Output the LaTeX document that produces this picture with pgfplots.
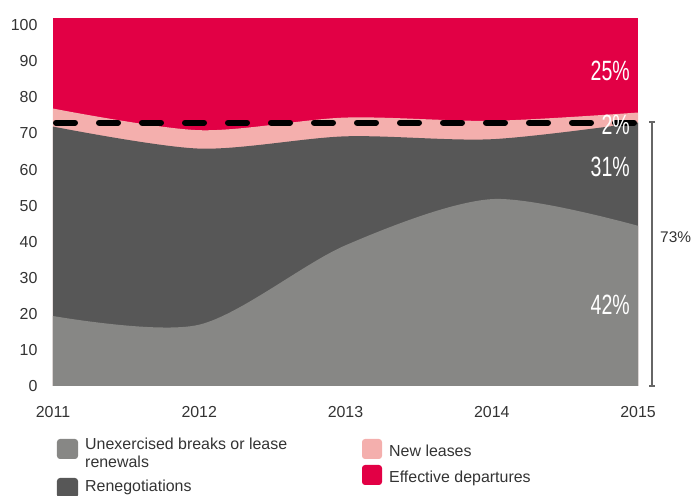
\documentclass[border=0pt]{standalone}
\usepackage{fontspec}
\setmainfont{Liberation Sans}
\usepackage{graphicx}
\usepackage{pgfplots}
\pgfplotsset{compat=1.18}
\definecolor{cRed}{HTML}{E20045}
\definecolor{cPink}{HTML}{F4AFAD}
\definecolor{cDark}{HTML}{575757}
\definecolor{cLight}{HTML}{878785}
\definecolor{cText}{HTML}{333333}
\definecolor{cBracket}{HTML}{666666}
\begin{document}
\begin{tikzpicture}[x=1bp,y=1bp]
\path[use as bounding box] (-53,-110) rectangle (638,386);
\begin{axis}[
  at={(0,0)}, anchor=south west,
  scale only axis, width=585bp, height=368bp,
  xmin=2011, xmax=2015, ymin=0, ymax=102,
  xtick={2011,2012,2013,2014,2015},
  ytick={0,10,...,100},
  axis line style={draw=none},
  major tick length=0pt, tick style={draw=none},
  /pgf/number format/1000 sep={},
  /pgf/number format/assume math mode=true,
  ticklabel style={font=\fontsize{16}{19}\selectfont, text=cText},
  xticklabel style={anchor=base, yshift=-32bp},
  yticklabel style={anchor=east, xshift=-12bp},
]
% Effective departures (top of stack)
\addplot[fill=cRed, draw=none] coordinates {(2011,102) (2015,102)} \closedcycle;
% New leases (cumulative top)
\addplot[fill=cPink, draw=none, smooth] coordinates {(2011,76.9) (2012,70.9) (2013,74.4) (2014,73.5) (2015,75.8)} \closedcycle;
% Renegotiations (cumulative top)
\addplot[fill=cDark, draw=none, smooth] coordinates {(2011,71.9) (2012,65.8) (2013,69.2) (2014,68.4) (2015,73.0)} \closedcycle;
% Unexercised breaks or lease renewals
\addplot[fill=cLight, draw=none, smooth] coordinates {(2011,19.4) (2012,17.0) (2013,39.0) (2014,51.8) (2015,44.4)} \closedcycle;
% 73% threshold
\addplot[black, line width=6bp, line cap=round, dash pattern=on 19bp off 24bp, dash phase=40bp] coordinates {(2011,73) (2015,73)};
\end{axis}
% value labels
\begin{scope}[every node/.style={anchor=base east, inner sep=0pt, text=white, font=\fontsize{28}{30}\selectfont}]
\node at (577,305) {\scalebox{0.7}[1]{25\%}};
\node at (577,251) {\scalebox{0.7}[1]{2\%}};
\node at (577,209) {\scalebox{0.7}[1]{31\%}};
\node at (577,71) {\scalebox{0.7}[1]{42\%}};
\end{scope}
% bracket
\draw[cBracket, line width=1.2bp] (599,0) -- (599,264);
\draw[cBracket, line width=1.2bp] (596,0) -- (602,0);
\draw[cBracket, line width=1.2bp] (596,264) -- (602,264);
\node[anchor=base west, inner sep=0pt, text=cText, font=\fontsize{15.5}{18}\selectfont] at (607,143) {73\%};
% legend
\begin{scope}[every node/.style={anchor=base west, inner sep=0pt, text=cText, font=\fontsize{16}{19}\selectfont}]
\fill[cLight, rounded corners=3bp] (4,-53) rectangle (25,-73);
\node at (32,-64) {Unexercised breaks or lease};
\node at (32,-82) {renewals};
\fill[cDark, rounded corners=3bp] (4,-92) rectangle (25,-112);
\node at (32,-106) {Renegotiations};
\fill[cPink, rounded corners=3bp] (309,-53) rectangle (329,-73);
\node at (336,-71) {New leases};
\fill[cRed, rounded corners=3bp] (309,-79) rectangle (329,-99);
\node at (336,-97) {Effective departures};
\end{scope}
\end{tikzpicture}
\end{document}
